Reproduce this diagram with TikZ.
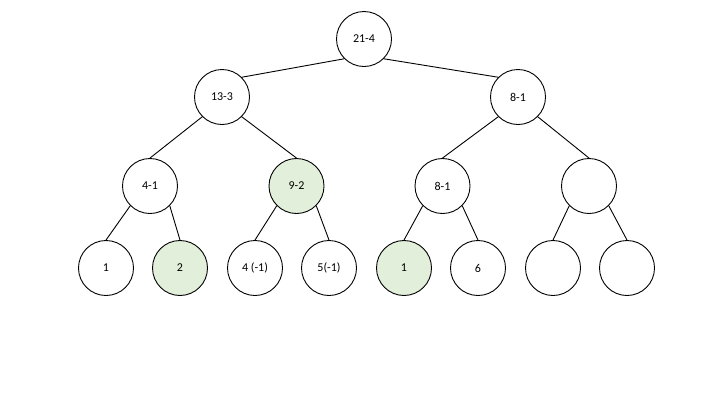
\documentclass[tikz,border=0pt]{standalone}
\usepackage{fontspec}
\setmainfont{Carlito}
\definecolor{lgreen}{HTML}{E2EFDA}
\begin{document}
\begin{tikzpicture}[x=1pt,y=-1pt,
  tnode/.style={circle,draw=black,line width=0.9pt,minimum size=55pt,inner sep=0pt,fill=white,font=\fontsize{12}{14}\selectfont},
  hl/.style={tnode,fill=lgreen},
  edge/.style={draw=black,line width=0.9pt}]
\useasboundingbox (0,0) rectangle (720,405);
\node[tnode] (r) at (364,39) {21-4};
\node[tnode] (a) at (222,97) {13-3};
\node[tnode] (b) at (518,97) {8-1};
\node[tnode] (a1) at (150,186) {4-1};
\node[hl] (a2) at (296.5,186) {9-2};
\node[tnode] (b1) at (442.5,186) {8-1};
\node[tnode] (b2) at (589,186) {};
\node[tnode] (l1) at (106,268) {1};
\node[hl] (l2) at (180,268) {2};
\node[tnode] (l3) at (255,268) {4 (-1)};
\node[tnode] (l4) at (329,268) {5(-1)};
\node[hl] (l5) at (404,268) {1};
\node[tnode] (l6) at (478,268) {6};
\node[tnode] (l7) at (553,268) {};
\node[tnode] (l8) at (627,268) {};
\path[edge] (r.south west) -- (a.north east);
\path[edge] (r.south east) -- (b.north west);
\path[edge] (a.south west) -- (a1.north);
\path[edge] (a.south east) -- (a2.north);
\path[edge] (b.south west) -- (b1.north);
\path[edge] (b.south east) -- (b2.north);
\path[edge] (a1.south west) -- (l1.north);
\path[edge] (a1.south east) -- (l2.north);
\path[edge] (a2.south west) -- (l3.north);
\path[edge] (a2.south east) -- (l4.north);
\path[edge] (b1.south west) -- (l5.north);
\path[edge] (b1.south east) -- (l6.north);
\path[edge] (b2.south west) -- (l7.north);
\path[edge] (b2.south east) -- (l8.north);
\end{tikzpicture}
\end{document}
